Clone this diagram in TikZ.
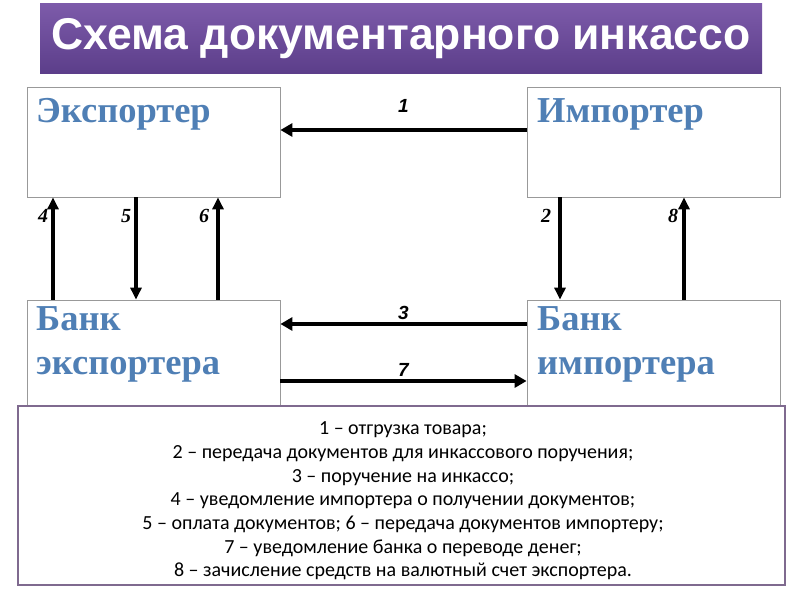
\documentclass[tikz,border=0pt]{standalone}
\usepackage{fontspec}
\setmainfont{Liberation Serif}
\setsansfont{Liberation Sans}
\newfontfamily\legendfont{Carlito}
\usetikzlibrary{arrows.meta}
\definecolor{titletop}{HTML}{7D5BAA}
\definecolor{titlebot}{HTML}{5C3E8A}
\definecolor{partyblue}{HTML}{4F7FB5}
\definecolor{legendline}{HTML}{7F6A8F}
\tikzset{
  party/.style={draw=gray!80,line width=0.8pt,minimum width=253pt,minimum height=110pt},
  partytext/.style={text=partyblue,font=\bfseries\fontsize{36.5}{44}\selectfont,align=left,anchor=north west,inner sep=0pt},
  flow/.style={line width=4pt,-{Triangle[length=12pt,width=13pt]}},
  vflow/.style={line width=3.5pt,-{Triangle[length=12pt,width=11pt]}},
  num/.style={font=\bfseries\itshape\fontsize{20}{20}\selectfont},
  hnum/.style={font=\sffamily\bfseries\itshape\fontsize{19}{19}\selectfont}
}
\begin{document}
\begin{tikzpicture}[x=1pt,y=-1pt]
\useasboundingbox (0,0) rectangle (800,600);
% title
\shade[top color=titletop,bottom color=titlebot] (40,3) rectangle (762,73);
\node[text=white,font=\sffamily\bfseries\fontsize{44.5}{46}\selectfont] (title) at (401,39) {Схема документарного инкассо};
% parties
\node[party] (exp) at (153.5,142) {};
\node[party] (imp) at (653.5,142) {};
\node[party] (bexp) at (153.5,355) {};
\node[party] (bimp) at (653.5,355) {};
\node[partytext] at (36,98) {Экспортер};
\node[partytext] at (537,98) {Импортер};
\node[partytext] at (36,306) {Банк\\экспортера};
\node[partytext] at (537,306) {Банк\\импортера};
% flows between parties
\coordinate (e1) at (exp.east |- 0,130);
\coordinate (i1) at (imp.west |- 0,130);
\draw[flow] (i1) -- (e1) node[midway,above=12pt,hnum] {1};
\coordinate (e3) at (bexp.east |- 0,324);
\coordinate (i3) at (bimp.west |- 0,324);
\draw[flow] (i3) -- (e3) node[midway,above=-1pt,hnum] {3};
\coordinate (e7) at (bexp.east |- 0,381);
\coordinate (i7) at (bimp.west |- 0,381);
\draw[flow] (e7) -- (i7) node[midway,above=-1pt,hnum] {7};
% vertical flows
\draw[vflow] (bexp.north -| 53,0) -- (exp.south -| 53,0);
\draw[vflow] (exp.south -| 136,0) -- (bexp.north -| 136,0);
\draw[vflow] (bexp.north -| 218,0) -- (exp.south -| 218,0);
\draw[vflow] (imp.south -| 560,0) -- (bimp.north -| 560,0);
\draw[vflow] (bimp.north -| 684,0) -- (imp.south -| 684,0);
\node[num] at (43,216) {4};
\node[num] at (126,216) {5};
\node[num] at (204,216) {6};
\node[num] at (546,216) {2};
\node[num] at (673,216) {8};
% legend
\node[draw=legendline,line width=1.5pt,fill=white,minimum width=767pt,minimum height=179pt] (legend) at (401.5,495.5) {};
\node[font=\legendfont\fontsize{20}{23.7}\selectfont,align=center] (legendtext) at (403,501) {1 – отгрузка товара;\\
2 – передача документов для инкассового поручения;\\
3 – поручение на инкассо;\\
4 – уведомление импортера о получении документов;\\
5 – оплата документов; 6 – передача документов импортеру;\\
7 – уведомление банка о переводе денег;\\
8 – зачисление средств на валютный счет экспортера.};
\end{tikzpicture}
\end{document}
